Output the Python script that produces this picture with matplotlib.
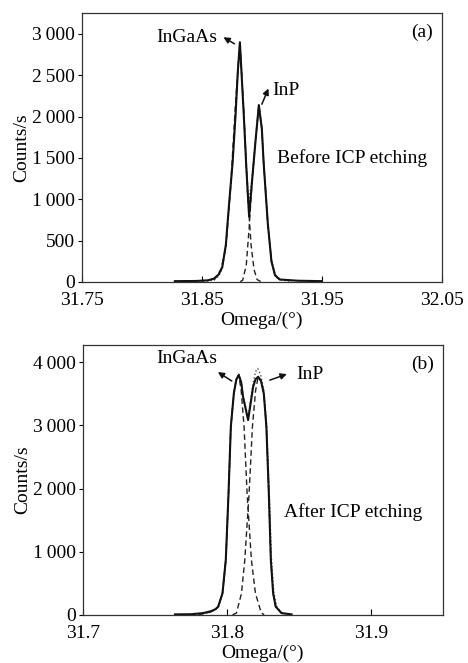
import matplotlib
matplotlib.use("Agg")
import matplotlib.pyplot as plt

plt.rcParams['font.family'] = ['Liberation Serif', 'DejaVu Serif']
plt.rcParams['font.size'] = 14

# ---- panel (a): before ICP etching ----
a_meas_x = [31.8275, 31.845, 31.855, 31.860, 31.864, 31.867, 31.870, 31.873, 31.8756, 31.878,
            31.880, 31.8817, 31.885, 31.887, 31.8894, 31.892, 31.895, 31.8975, 31.900, 31.9015,
            31.905, 31.908, 31.911, 31.915, 31.930, 31.950]
a_meas_y = [10, 12, 20, 40, 90, 180, 450, 1000, 1440, 2000,
            2550, 2900, 2000, 1400, 790, 1250, 1750, 2140, 1850, 1440,
            700, 250, 80, 30, 15, 10]

a_fit_x = [31.845, 31.855, 31.860, 31.864, 31.867, 31.870, 31.873, 31.8756, 31.878, 31.880,
           31.8817, 31.885, 31.887, 31.889, 31.892, 31.895, 31.8975, 31.900, 31.9015, 31.905,
           31.908, 31.911, 31.915, 31.925]
a_fit_y = [5, 10, 25, 70, 160, 420, 980, 1430, 2000, 2560,
           2880, 2050, 1450, 950, 1270, 1760, 2120, 1860, 1460, 720,
           270, 95, 25, 5]

a_comp1_x = [31.860, 31.866, 31.870, 31.874, 31.878, 31.8817, 31.885, 31.888, 31.891, 31.8935, 31.896, 31.899]
a_comp1_y = [20, 150, 420, 1150, 2150, 2900, 2050, 1100, 450, 150, 30, 5]
a_comp2_x = [31.882, 31.884, 31.887, 31.8894, 31.892, 31.895, 31.8975, 31.900, 31.9015, 31.905, 31.908, 31.911, 31.915]
a_comp2_y = [5, 20, 200, 650, 1250, 1750, 2140, 1850, 1440, 700, 250, 80, 25]

a_yticks = [0, 500, 1000, 1500, 2000, 2500, 3000]
a_yticklabels = ['0', '500', '1\u2009000', '1\u2009500', '2\u2009000', '2\u2009500', '3\u2009000']
a_xticks = [31.75, 31.85, 31.95, 32.05]
a_xticklabels = ['31.75', '31.85', '31.95', '32.05']

# ---- panel (b): after ICP etching ----
b_meas_x = [31.764, 31.775, 31.7835, 31.789, 31.792, 31.794, 31.797, 31.7993, 31.8012, 31.8028,
            31.8049, 31.8066, 31.8083, 31.810, 31.8113, 31.8148, 31.8183, 31.820, 31.8218, 31.8238,
            31.8257, 31.8275, 31.8292, 31.8306, 31.8322, 31.834, 31.838, 31.845]
b_meas_y = [10, 12, 30, 60, 90, 131, 343, 870, 1924, 2977,
            3505, 3720, 3794, 3680, 3450, 3083, 3610, 3730, 3768, 3700,
            3505, 2977, 1924, 870, 343, 131, 30, 10]

b_fit_x = [31.775, 31.7835, 31.789, 31.792, 31.7945, 31.7972, 31.7995, 31.8013, 31.8029, 31.805,
           31.8066, 31.8083, 31.810, 31.8113, 31.8148, 31.8183, 31.820, 31.8215, 31.8235, 31.8257,
           31.8277, 31.8295, 31.831, 31.8327, 31.8345, 31.838, 31.842]
b_fit_y = [5, 20, 45, 80, 140, 360, 880, 1930, 2980, 3520,
           3740, 3820, 3700, 3480, 3120, 3680, 3850, 3900, 3800, 3560,
           3000, 1950, 900, 360, 140, 35, 8]

b_comp1_x = [31.780, 31.7835, 31.789, 31.792, 31.794, 31.797, 31.7993, 31.8012, 31.8028, 31.8049,
             31.8066, 31.8083, 31.810, 31.812, 31.8141, 31.8171, 31.8199, 31.824, 31.826]
b_comp1_y = [5, 20, 50, 85, 131, 343, 870, 1924, 2977, 3505,
             3730, 3800, 3550, 2977, 1924, 870, 343, 30, 5]
b_comp2_x = [31.804, 31.8067, 31.8102, 31.8125, 31.8155, 31.8178, 31.820, 31.8218, 31.8238, 31.8257,
             31.8275, 31.8292, 31.8306, 31.8322, 31.834, 31.838, 31.842]
b_comp2_y = [5, 30, 343, 870, 1924, 2977, 3550, 3768, 3700, 3505,
             2977, 1924, 870, 343, 131, 30, 8]

b_yticks = [0, 1000, 2000, 3000, 4000]
b_yticklabels = ['0', '1\u2009000', '2\u2009000', '3\u2009000', '4\u2009000']
b_xticks = [31.7, 31.8, 31.9]
b_xticklabels = ['31.7', '31.8', '31.9']


def style_axes(ax, xticks, xticklabels, yticks, yticklabels):
    ax.set_xticks(xticks)
    ax.set_xticklabels(xticklabels)
    ax.set_yticks(yticks)
    ax.set_yticklabels(yticklabels)
    ax.tick_params(axis='x', direction='in', length=4, width=0.8, pad=7, labelsize=14)
    ax.tick_params(axis='y', direction='out', length=3, width=0.8, pad=2, labelsize=14)
    for s in ax.spines.values():
        s.set_linewidth(0.9)
        s.set_color('#333333')
    ax.set_xlabel('Omega/(\u00b0)', fontsize=14, labelpad=2)
    ax.set_ylabel('Counts/s', fontsize=14, labelpad=1)


def draw_curves(ax, mx, my, fx, fy, c1x, c1y, c2x, c2y):
    ax.plot(c1x, c1y, color='#222222', lw=1.0, ls=(0, (4, 2.5)))
    ax.plot(c2x, c2y, color='#222222', lw=1.0, ls=(0, (4, 2.5)))
    ax.plot(fx, fy, color='#555555', lw=1.0, ls=':')
    ax.plot(mx, my, color='#111111', lw=1.5)


arrow_kw = dict(arrowstyle='-|>', color='#111111', lw=1.1, mutation_scale=9,
                shrinkA=0, shrinkB=0)

fig = plt.figure(figsize=(4.68, 6.63), dpi=100)

ax1 = fig.add_axes([0.175, 0.5747, 0.769, 0.4053])
draw_curves(ax1, a_meas_x, a_meas_y, a_fit_x, a_fit_y, a_comp1_x, a_comp1_y, a_comp2_x, a_comp2_y)
ax1.set_xlim(31.75, 32.05)
ax1.set_ylim(0, 3250)
style_axes(ax1, a_xticks, a_xticklabels, a_yticks, a_yticklabels)
ax1.text(31.8375, 2960, 'InGaAs', ha='center', va='center', fontsize=14)
ax1.annotate('', xy=(31.868, 2960), xytext=(31.8772, 2880), arrowprops=arrow_kw)
ax1.annotate('', xy=(31.9055, 2340), xytext=(31.900, 2150), arrowprops=arrow_kw)
ax1.text(31.9085, 2320, 'InP', ha='left', va='center', fontsize=14)
ax1.text(31.9125, 1500, 'Before ICP etching', ha='left', va='center', fontsize=14)
ax1.text(0.975, 0.96, '(a)', transform=ax1.transAxes, ha='right', va='top', fontsize=14)

ax2 = fig.add_axes([0.177, 0.0724, 0.769, 0.4072])
draw_curves(ax2, b_meas_x, b_meas_y, b_fit_x, b_fit_y, b_comp1_x, b_comp1_y, b_comp2_x, b_comp2_y)
ax2.set_xlim(31.7, 31.95)
ax2.set_ylim(0, 4270)
style_axes(ax2, b_xticks, b_xticklabels, b_yticks, b_yticklabels)
ax2.text(31.7722, 4050, 'InGaAs', ha='center', va='center', fontsize=14)
ax2.annotate('', xy=(31.7938, 3842), xytext=(31.8035, 3700), arrowprops=arrow_kw)
ax2.annotate('', xy=(31.8417, 3810), xytext=(31.8299, 3715), arrowprops=arrow_kw)
ax2.text(31.8486, 3810, 'InP', ha='left', va='center', fontsize=14)
ax2.text(31.8395, 1630, 'After ICP etching', ha='left', va='center', fontsize=14)
ax2.text(0.975, 0.96, '(b)', transform=ax2.transAxes, ha='right', va='top', fontsize=14)

fig.savefig('out.png', dpi=100)
